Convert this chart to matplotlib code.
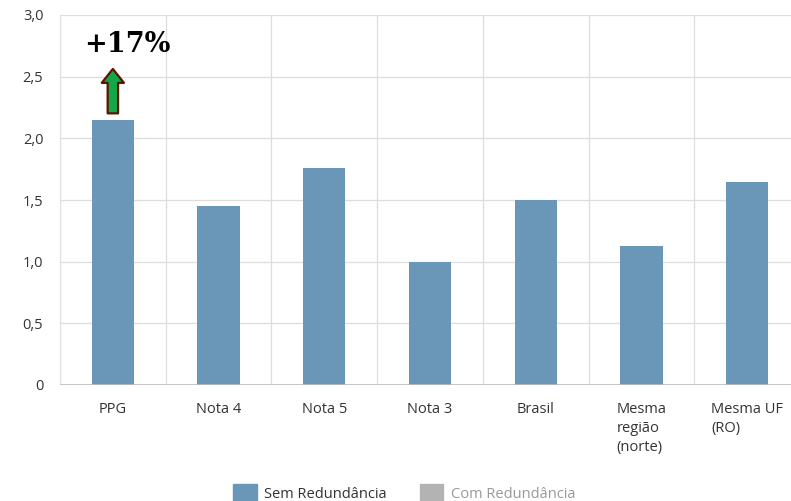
import matplotlib.pyplot as plt
from matplotlib.patches import Patch

plt.rcParams['font.family'] = ['Open Sans', 'DejaVu Sans']

categorias = ['PPG', 'Nota 4', 'Nota 5', 'Nota 3', 'Brasil', 'Mesma\nregião\n(norte)', 'Mesma UF\n(RO)']
sem_redundancia = [2.15, 1.45, 1.76, 1.00, 1.50, 1.13, 1.65]
y_ticks = [0, 0.5, 1.0, 1.5, 2.0, 2.5, 3.0]
y_labels = ['0', '0,5', '1,0', '1,5', '2,0', '2,5', '3,0']
destaque = '+17%'

azul = '#6a96b8'
cinza = '#b3b3b3'

fig = plt.figure(figsize=(7.91, 5.01), dpi=100)
ax = fig.add_axes([60 / 791, 1 - 385 / 501, 1 - 60 / 791, (385 - 15) / 501])

x = list(range(len(categorias)))
ax.bar(x, sem_redundancia, width=0.4, color=azul, zorder=3)

ax.set_xlim(-0.5, 6.415)
ax.set_ylim(0, 3.0)
ax.set_yticks(y_ticks)
ax.set_yticklabels(y_labels, fontsize=10.5, color='#333333')
ax.set_xticks(x)
ax.set_xticklabels(categorias, fontsize=10.5, color='#333333', multialignment='left', linespacing=1.4)
ax.tick_params(length=0, pad=12)
ax.tick_params(axis='x', pad=12)

# grade
for v in y_ticks[1:]:
    ax.axhline(v, color='#dddddd', lw=0.9, zorder=1)
for i in range(len(categorias)):
    ax.axvline(i - 0.5, color='#dddddd', lw=0.9, zorder=1)
ax.axhline(0, color='#bbbbbb', lw=1.2, zorder=4)
for s in ax.spines.values():
    s.set_visible(False)

# seta de destaque
ax.annotate('', xy=(0, 2.585), xytext=(0, 2.18),
            arrowprops=dict(arrowstyle='simple,head_length=1.0,head_width=1.6,tail_width=0.75',
                            fc='#12a84a', ec='#5a1500', lw=1.6), zorder=5)
ax.text(0.14, 2.76, destaque, fontsize=19.5, fontweight='bold', family='DejaVu Serif',
        ha='center', va='center', color='black')

handles = [Patch(color=azul), Patch(color=cinza)]
leg = fig.legend(handles, ['Sem Redundância', 'Com Redundância'], loc='lower center',
                 bbox_to_anchor=(0.511, -0.03), ncol=2, frameon=False, fontsize=10.5,
                 handlelength=1.6, handleheight=1.6, columnspacing=2.3, handletextpad=0.5)
leg.get_texts()[1].set_color('#999999')
leg.get_texts()[0].set_color('#333333')

fig.savefig('out.png', dpi=100)
